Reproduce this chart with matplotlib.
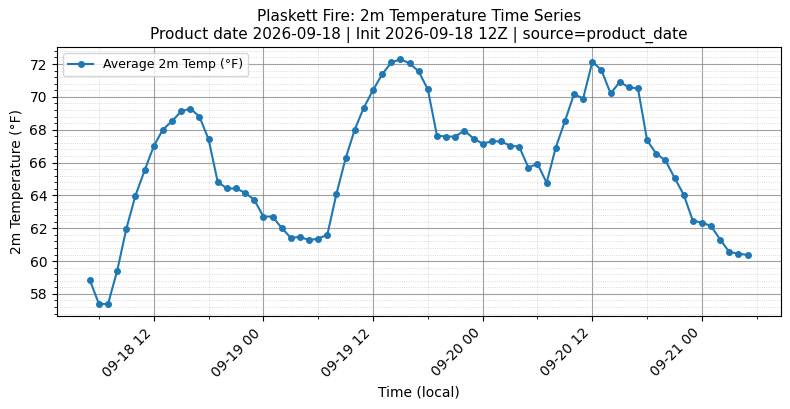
import matplotlib
matplotlib.use("Agg")
import numpy as np
import pandas as pd
import matplotlib.pyplot as plt
import matplotlib.dates as mdates
from matplotlib.ticker import MultipleLocator, AutoMinorLocator

# hourly local times, 09-18 05:00 .. 09-21 05:00
start_time = "2026-09-18 05:00"
n_hours = 73

temps_f = [
    58.85, 57.39, 57.39, 59.41, 61.96, 63.99, 65.52, 66.99, 68.01, 68.52,
    69.11, 69.29, 68.80, 67.42, 64.83, 64.42, 64.42, 64.16, 63.73, 62.71,
    62.71, 62.02, 61.42, 61.47, 61.28, 61.36, 61.61, 64.10, 66.25, 68.01,
    69.35, 70.41, 71.37, 72.10, 72.29, 72.04, 71.55, 70.45, 67.64, 67.58,
    67.58, 67.95, 67.46, 67.15, 67.29, 67.29, 67.03, 66.97, 65.69, 65.93,
    64.77, 66.91, 68.52, 70.17, 69.90, 72.14, 71.63, 70.21, 70.90, 70.59,
    70.51, 67.35, 66.54, 66.13, 65.07, 64.05, 62.46, 62.34, 62.14, 61.30,
    60.55, 60.45, 60.37,
]

title_lines = [
    "Plaskett Fire: 2m Temperature Time Series",
    "Product date 2026-09-18 | Init 2026-09-18 12Z | source=product_date",
]

times = pd.date_range(start_time, periods=n_hours, freq="h")

fig, ax = plt.subplots(figsize=(7.9, 4.09), dpi=100)
fig.subplots_adjust(left=0.072, right=0.988, top=0.885, bottom=0.227)

ax.plot(times, temps_f, marker="o", markersize=4, linewidth=1.5,
        color="#1f77b4", label="Average 2m Temp (°F)")

ax.xaxis.set_major_locator(mdates.HourLocator(byhour=[0, 12]))
ax.xaxis.set_minor_locator(mdates.HourLocator(byhour=[6, 18]))
ax.xaxis.set_major_formatter(mdates.DateFormatter("%m-%d %H"))
ax.yaxis.set_major_locator(MultipleLocator(2))
ax.yaxis.set_minor_locator(AutoMinorLocator(5))

ax.grid(which="major", color="#888888", linewidth=0.8, alpha=0.8)
ax.grid(which="minor", color="#bbbbbb", linestyle=":", linewidth=0.6, alpha=0.7)

plt.setp(ax.get_xticklabels(), rotation=45, ha="right")
ax.tick_params(labelsize=10)

ax.set_title("\n".join(title_lines), fontsize=11)
ax.set_xlabel("Time (local)", fontsize=10)
ax.set_ylabel("2m Temperature (°F)", fontsize=10)
ax.legend(loc="upper left", fontsize=9)

fig.savefig("out.png", dpi=100)
